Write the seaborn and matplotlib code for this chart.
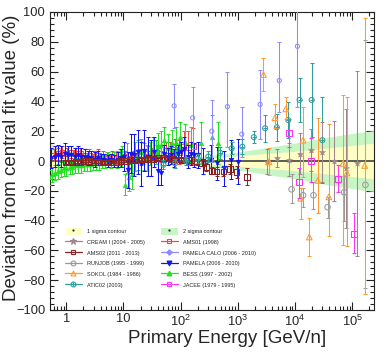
import numpy as np
import pandas as pd
import matplotlib
matplotlib.use("Agg")
import matplotlib.pyplot as plt
import seaborn as sns
from matplotlib.lines import Line2D
from matplotlib.patches import Patch
from matplotlib.ticker import FixedLocator, FixedFormatter, LogLocator, NullFormatter, MultipleLocator

# ---------------- data ----------------
# fit uncertainty contours (energy knots, half widths in %)
band_E = [0.5, 1, 3.16, 10, 31.6, 100, 316, 1000, 3160, 1e4, 3.16e4, 1e5, 2.5e5]
band_1s = [6, 3.5, 1.8, 1.2, 1.0, 1.2, 2.0, 3.5, 5.0, 6.5, 8.5, 10.5, 12]
band_2s = [12, 7, 3.5, 2.2, 1.8, 2.2, 3.5, 6.0, 9.0, 12, 15.5, 18.5, 20.5]

ams01_E = [0.6, 0.72, 0.86, 1.03, 1.23, 1.48, 1.77, 2.12, 2.54, 3.05, 3.65, 4.37, 5.24, 6.28, 7.53, 9.0,
           10.8, 13, 15.5, 18.6, 22.3, 26.7, 32, 38.4, 46, 55, 66, 79, 95, 114, 137, 165]
ams01_v = [4, 5, 6, 5, 6, 5, 5, 4, 4, 3, 4, 3, 2, 3, 2, 2, 3, 2, 3, 4, 3, 5, 4, 6, 5, 7, 6, 8, 6, 10, 9, 10]
ams01_e = [4, 4, 4, 4, 4, 4, 4, 4, 4, 4, 4, 4, 4, 4, 4, 4, 4, 4, 4, 4, 5, 5, 5, 5, 6, 6, 7, 7, 8, 10, 11, 12]

pam_E = [0.55, 0.63, 0.72, 0.82, 0.94, 1.07, 1.22, 1.4, 1.6, 1.83, 2.09, 2.39, 2.73, 3.12, 3.57, 4.08, 4.66,
         5.33, 6.1, 6.97, 7.97, 9.1, 10.4, 11.9, 13.6, 15.6, 17.8, 20.3, 23.2, 26.6, 30.4, 34.7, 39.7, 45.4,
         51.9, 59.3, 67.8, 77.5, 88.6, 101, 116, 132, 151, 173, 198, 250, 335, 440, 580, 750, 1000]
pam_v = [2, 3, 4, 3, 5, 4, 4, 3, 4, 3, 3, 2, 2, 1, 2, 1, 1, 0, 1, 0, 1, 2, 3, -6, 5, 4, 6, -2, 7, 3, 2, 6,
         -7, -8, 5, 3, 4, 2, 5, 6, 8, 3, 5, 4, 4, 0, 1, -1.5, -5, 1, -0.5]
pam_e = [7, 7, 7, 7, 7, 6, 6, 6, 6, 6, 5, 5, 5, 5, 5, 4, 4, 4, 4, 4, 5, 6, 10, 12, 13, 14, 15, 15, 14, 13,
         12, 10, 9, 8, 6, 6, 6, 6, 6, 7, 8, 8, 8, 8, 9, 9, 10, 11, 12, 13, 15]

bess_E = [0.5, 0.56, 0.63, 0.71, 0.8, 0.9, 1.01, 1.14, 1.28, 1.44, 1.62, 1.83, 2.06, 2.32, 2.61, 2.94, 3.31,
          3.73, 4.2, 4.73, 5.33, 6.0, 6.76, 7.6, 8.6, 9.6, 10.6, 11.6, 12.6, 14, 15.8, 17.8, 20, 22.6, 25.5,
          28.7, 32.4, 36.5, 41, 46, 52, 60, 70, 82, 98, 120, 150, 224, 350, 455]
bess_v = [-11, -9, -8, -7, -6, -5, -5, -4, -4, -3, -3, -3, -2, -2, -2, -1, -1, -1, 0, 0, 1, 0, 1, 1, 2, 3,
          -16, 2, -11, -9, 3, 4, 6, 3, 2, 5, 8, 6, 10, 11, 14, 9, 12, 13, 16, 13, 11, 12, 16, 12]
bess_e = [5, 5, 5, 5, 5, 5, 5, 5, 5, 5, 5, 5, 5, 5, 5, 5, 5, 5, 5, 5, 5, 5, 5, 6, 6, 7, 7, 10, 9, 10, 10,
          10, 9, 9, 9, 8, 8, 8, 9, 9, 9, 9, 9, 10, 10, 12, 12, 14, 15, 14]

ams02_E = [1.0, 1.2, 1.45, 1.75, 2.1, 2.5, 3.0, 3.6, 4.3, 5.2, 6.2, 7.5, 9.0, 11, 13, 16, 19, 23, 27, 33,
           40, 48, 58, 70, 85, 103, 125, 155, 190, 233, 283, 350, 425, 560, 730, 950, 1430]
ams02_v = [-1, -1, -0.5, -0.5, 0, 0, -0.5, -0.5, -1, -1, -0.5, -0.5, 0, 0, 0.5, 0.5, 1, 1, 1.5, 1.5, 2, 2,
           2, 1.5, 1, 0.7, 0.5, 0.7, -0.4, -1.5, -4, -6.5, -7, -7, -5.4, -7.2, -10.5]
ams02_e = [1, 1, 1, 1, 1, 1, 1, 1, 1, 1, 1, 1, 1, 1, 1, 1, 1, 1, 1, 1, 1, 1, 1, 1, 1, 1.5, 1.5, 2, 2, 2,
           2.5, 2.5, 3, 3, 3.5, 4, 5.5]

calo_E = [77, 162, 350, 656, 1170, 2450, 5300, 11000]
calo_v = [37, 29, 20, 36.5, 18, 38, 54, 77]
calo_lo = [15, 21, 21, 27, 15, 23, 21, 41]
calo_hi = [15, 21, 21, 23, 18, 23, 26, 30]

atic_E = [50, 80, 125, 200, 305, 490, 780, 1200, 1900, 3000, 4800, 7600, 12000, 19500, 30000]
atic_v = [-2.5, -1.5, 0, 1.5, 3, 5.5, 8.5, 9.6, 16, 22, 22.6, 27.5, 41, 41, 14]
atic_e = [3, 3, 3, 3, 3.5, 4, 4, 5, 4, 9, 9, 12, 15, 25, 29]

cream_E = [3200, 4850, 7800, 12000, 19000, 30000, 48000, 77000, 120000]
cream_v = [-0.5, 1.8, 1, 5, 7.4, 6, 0, -5, -1.6]
cream_e = [8.5, 6, 11, 14, 14, 20, 27, 40, 62]

runjob_E = [8700, 13800, 21000, 37000, 72000, 170000]
runjob_v = [-19, -23, -23, -31, -21, -16]
runjob_lo = [9, 8, 9, 7, 19, 69]
runjob_hi = [10, 5, 9, 7, 11, 97]

sokol_E = [2800, 3500, 4450, 6900, 12500, 13800, 17700, 25000, 39000, 69000, 81000, 165000]
sokol_v = [58, -0.5, 29, 35, -25, 14, -51, -13, -24, -1.6, -8, -3]
sokol_lo = [11, 9, 7, 7, 14, 25, 13, 22, 26, 55, 49, 86]
sokol_hi = [11, 9, 9, 8, 7, 22, 13, 42, 49, 46, 51, 99]

jacee_E = [7800, 11800, 19000, 56000, 107000]
jacee_v = [19, -14, 0.2, -12.3, -49]
jacee_lo = [9.5, 11, 14, 8.5, 13]
jacee_hi = [9.5, 9, 15, 9.5, 14]

# ---------------- style ----------------
sns.set_style("ticks")
plt.rcParams['font.family'] = ['Liberation Sans', 'DejaVu Sans']
plt.rcParams['mathtext.fontset'] = 'custom'
plt.rcParams['mathtext.rm'] = 'Liberation Sans'
plt.rcParams['mathtext.it'] = 'Liberation Sans:italic'

C_CREAM = "#A0868C"
C_AMS01 = "#F04848"
C_AMS02 = "#8B2525"
C_CALO = "#8C8CFF"
C_RUNJOB = "#9A9A9A"
C_PAM = "#1414F0"
C_SOKOL = "#FF9A30"
C_BESS = "#22E022"
C_ATIC = "#2E9E9E"
C_JACEE = "#FF33FF"
C_Y = "#FFFFC6"
C_G = "#C8F5C4"

fig = plt.figure(figsize=(3.86, 3.52), dpi=100)
ax = fig.add_axes([50 / 386, 1 - 310 / 352, 324 / 386, 298 / 352])
ax.set_xscale('log')

# contours
ax.fill_between(band_E, [-s for s in band_2s], band_2s, color=C_G, lw=0, zorder=1)
ax.fill_between(band_E, [-s for s in band_1s], band_1s, color=C_Y, lw=0, zorder=1.1)
ax.axhline(0, color="#303030", lw=1.1, zorder=2.5)


def draw(E, v, lo, hi, color, marker, filled, s, z, alpha=1.0, elw=0.75):
    ax.errorbar(E, v, yerr=[lo, hi], fmt='none', ecolor=color, elinewidth=elw, capsize=1.2,
                capthick=elw, zorder=z, alpha=alpha)
    df = pd.DataFrame({'E': E, 'v': v})
    if filled:
        sns.scatterplot(data=df, x='E', y='v', ax=ax, marker=marker, s=s, color=color,
                        edgecolor=color, linewidth=0.4, zorder=z + 0.1, legend=False)
    else:
        sns.scatterplot(data=df, x='E', y='v', ax=ax, marker=marker, s=s, color=color,
                        facecolor='none', edgecolor=color, linewidth=0.75, zorder=z + 0.1, legend=False)


draw(ams01_E, ams01_v, ams01_e, ams01_e, C_AMS01, 's', False, 13, 3)
draw(bess_E, bess_v, bess_e, bess_e, C_BESS, '^', True, 11, 3.2)
draw(pam_E, pam_v, pam_e, pam_e, C_PAM, 'v', True, 11, 3.4)
draw(calo_E, calo_v, calo_lo, calo_hi, C_CALO, 'o', False, 9, 3.5)
draw(ams02_E, ams02_v, ams02_e, ams02_e, C_AMS02, 's', False, 17, 3.6)
draw(atic_E, atic_v, atic_e, atic_e, C_ATIC, 'o', False, 13, 3.7)
sns.scatterplot(x=atic_E, y=atic_v, ax=ax, marker='+', s=10, color=C_ATIC, linewidth=0.7,
                zorder=3.85, legend=False)
draw(cream_E, cream_v, cream_e, cream_e, C_CREAM, '*', True, 20, 3.8)
draw(runjob_E, runjob_v, runjob_lo, runjob_hi, C_RUNJOB, 'o', False, 16, 3.9)
draw(sokol_E, sokol_v, sokol_lo, sokol_hi, C_SOKOL, '^', False, 17, 4.0)
draw(jacee_E, jacee_v, jacee_lo, jacee_hi, C_JACEE, 's', False, 20, 4.1)

# axes
ax.set_xlim(0.52, 2.4e5)
ax.set_ylim(-100, 100)
ax.xaxis.set_major_locator(FixedLocator([1, 10, 100, 1e3, 1e4, 1e5]))
ax.xaxis.set_major_formatter(FixedFormatter(['1', '10', '$10^{2}$', '$10^{3}$', '$10^{4}$', '$10^{5}$']))
ax.xaxis.set_minor_locator(LogLocator(base=10, subs=np.arange(2, 10), numticks=30))
ax.xaxis.set_minor_formatter(NullFormatter())
ax.yaxis.set_major_locator(MultipleLocator(20))
ax.yaxis.set_minor_locator(MultipleLocator(4))
ax.tick_params(which='both', direction='in', top=True, right=True, color='#222222', width=0.8,
               labelsize=9.3)
ax.tick_params(which='major', length=6)
ax.tick_params(which='minor', length=3)
ax.tick_params(axis='y', pad=3.5)
ax.tick_params(axis='x', pad=2.5)
for sp in ax.spines.values():
    sp.set_color('#222222')
    sp.set_linewidth(0.8)

ax.set_xlabel('Primary Energy [GeV/n]', fontsize=13.5)
ax.set_ylabel('Deviation from central fit value (%)', fontsize=13.5)
ax.xaxis.label.set_va('center')
ax.xaxis.set_label_coords(0.546, -0.094)
ax.yaxis.label.set_va('center')
ax.yaxis.set_label_coords(-0.12, 0.51)

# legend
dot = dict(ls='none', marker='.', ms=1, color='k')


def lh(c, m, filled, ms=3.5):
    return Line2D([], [], color=c, lw=0.9, marker=m, ms=ms, mfc=c if filled else 'none', mec=c, mew=0.8)


h_1s = (Patch(facecolor=C_Y, edgecolor='none'), Line2D([], [], **dot))
h_2s = (Patch(facecolor=C_G, edgecolor='none'), Line2D([], [], **dot))
h_atic = (lh(C_ATIC, 'o', False), Line2D([], [], ls='none', marker='+', ms=3.5, color=C_ATIC, mew=0.8))
handles = [h_1s, lh(C_CREAM, '*', True, 4.5), lh(C_AMS02, 's', False), lh(C_RUNJOB, 'o', False),
           lh(C_SOKOL, '^', False), h_atic,
           h_2s, lh(C_AMS01, 's', False), lh(C_CALO, 'P', True), lh(C_PAM, 'v', True),
           lh(C_BESS, '^', True), lh(C_JACEE, 's', False)]
labels = ['1 sigma contour', 'CREAM I (2004 - 2005)', 'AMS02 (2011 - 2013)', 'RUNJOB (1995 - 1999)',
          'SOKOL (1984 - 1986)', 'ATIC02 (2003)',
          '2 sigma contour', 'AMS01 (1998)', 'PAMELA CALO (2006 - 2010)', 'PAMELA (2006 - 2010)',
          'BESS (1997 - 2002)', 'JACEE (1979 - 1995)']
ax.legend(handles=handles, labels=labels, ncol=2, loc='upper left', bbox_to_anchor=(0.046, 0.276),
          bbox_transform=ax.transAxes, frameon=False, fontsize=4, handlelength=3.0, handleheight=1.5,
          handletextpad=0.9, columnspacing=3.0, labelspacing=0.72, borderpad=0, borderaxespad=0)

fig.savefig('out.png', dpi=100)
